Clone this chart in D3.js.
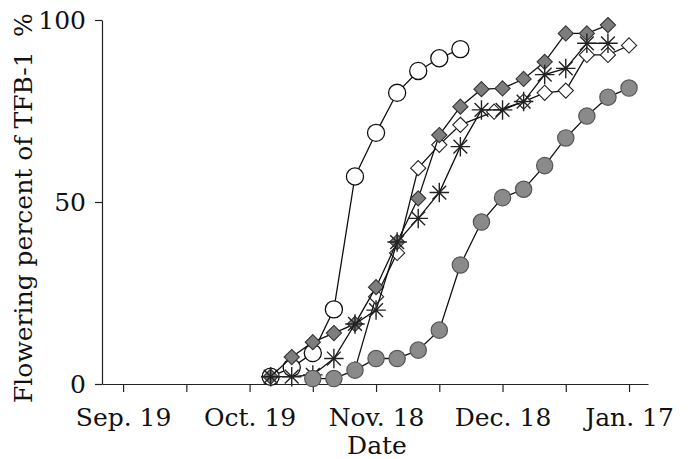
<!DOCTYPE html>
<html>
<head>
<meta charset="utf-8">
<script src="https://cdn.jsdelivr.net/npm/d3@7"></script>
<style>
  html, body { margin: 0; padding: 0; background: #fff; }
  svg { display: block; }
  text { font-family: "DejaVu Serif", serif; fill: #111; }
</style>
</head>
<body>
<svg id="chart" width="691" height="459"></svg>
<script>
// Days counted from Sep. 19
const tickDays = [0, 15, 30, 45, 60, 75, 90, 105, 120];
const tickLabels = ["Sep. 19", "", "Oct. 19", "", "Nov. 18", "", "Dec. 18", "", "Jan. 17"];
const yTicks = [0, 50, 100];

// Open circles
const openCircleDays   = [35, 40, 45, 50, 55, 60, 65, 70, 75, 80];
const openCircleValues = [2, 4.5, 8.5, 20.5, 57, 69, 80, 86, 89.5, 92];

// Open diamonds
const openDiamondDays   = [55, 60, 65, 70, 75, 80, 88, 95, 100, 105, 110, 115, 120];
const openDiamondValues = [4, 24, 36, 59.3, 65.7, 71.2, 74.8, 77.6, 80, 80.6, 90.4, 90.4, 93];

// Grey diamonds
const greyDiamondDays   = [35, 40, 45, 50, 55, 60, 65, 70, 75, 80, 85, 90, 95, 100, 105, 110, 115];
const greyDiamondValues = [2, 7.4, 11.5, 14, 16.5, 26.6, 39, 51, 68.4, 76.2, 81, 81.2, 83.8, 88.5, 96.3, 96.3, 98.6];

// Asterisks
const asteriskDays   = [35, 40, 45, 50, 55, 60, 65, 70, 75, 80, 85, 90, 95, 100, 105, 110, 115];
const asteriskValues = [2, 2, 2.5, 7, 16.5, 20.3, 39, 45.5, 52.6, 65.2, 75.3, 75.3, 77.6, 85, 86.7, 93.6, 93.6];

// Grey circles
const greyCircleDays   = [45, 50, 55, 60, 65, 70, 75, 80, 85, 90, 95, 100, 105, 110, 115, 120];
const greyCircleValues = [1.5, 1.5, 3.8, 7, 7, 9.3, 14.8, 32.7, 44.5, 51.2, 53.5, 60, 67.6, 73.6, 78.8, 81.3];

const FONT = 25;
const svg = d3.select("#chart");

const x = d3.scaleLinear().domain([-5, 124.5]).range([102, 648]);
const y = d3.scaleLinear().domain([0, 100]).range([384, 20]);

// Axes
const xAxis = d3.axisBottom(x)
  .tickValues(tickDays)
  .tickFormat((d, i) => tickLabels[i])
  .tickSizeInner(8).tickSizeOuter(0).tickPadding(16);
const gx = svg.append("g").attr("transform", `translate(0,${y(0)})`).call(xAxis);
gx.selectAll("text").attr("font-size", FONT).attr("font-family", "DejaVu Serif, serif");

const yAxis = d3.axisLeft(y)
  .tickValues(yTicks)
  .tickSizeInner(7).tickSizeOuter(0).tickPadding(9);
const gy = svg.append("g").attr("transform", `translate(${x.range()[0]},0)`).call(yAxis);
gy.selectAll("text").attr("font-size", FONT).attr("font-family", "DejaVu Serif, serif");

svg.selectAll(".domain, .tick line").attr("stroke", "#222").attr("stroke-width", 1.2);

// Axis titles
svg.append("text")
  .attr("x", 377).attr("y", 454)
  .attr("text-anchor", "middle")
  .attr("font-size", FONT)
  .text("Date");

svg.append("text")
  .attr("transform", "translate(32,403) rotate(-90)")
  .attr("text-anchor", "start")
  .attr("font-size", FONT)
  .text("Flowering percent of TFB-1");

svg.append("text")
  .attr("transform", "translate(32,25) rotate(-90)")
  .attr("text-anchor", "middle")
  .attr("font-size", FONT)
  .text("%");

// Eight-ray asterisk symbol
const asterisk8 = {
  draw(ctx, size) {
    const r = Math.sqrt(size) / 2;
    for (let k = 0; k < 4; k++) {
      const a = k * Math.PI / 4;
      const dx = Math.cos(a) * r, dy = Math.sin(a) * r;
      ctx.moveTo(-dx, -dy);
      ctx.lineTo(dx, dy);
    }
  }
};

// Square turned 45 degrees; size is the square's area
const rhomb = {
  draw(ctx, size) {
    const h = Math.sqrt(size / 2);
    ctx.moveTo(0, -h);
    ctx.lineTo(h, 0);
    ctx.lineTo(0, h);
    ctx.lineTo(-h, 0);
    ctx.closePath();
  }
};

const line = d3.line().x(d => x(d[0])).y(d => y(d[1]));
const zip = (a, b) => a.map((d, i) => [d, b[i]]);

const series = [
  { days: openCircleDays, values: openCircleValues, type: d3.symbolCircle, size: 230, fill: "#fff", stroke: "#111", sw: 1.3 },
  { days: openDiamondDays, values: openDiamondValues, type: rhomb, size: 115, fill: "#fff", stroke: "#222", sw: 1.1 },
  { days: greyDiamondDays, values: greyDiamondValues, type: rhomb, size: 115, fill: "#7d7d7d", stroke: "#333", sw: 1.1 },
  { days: asteriskDays, values: asteriskValues, type: asterisk8, size: 380, fill: "none", stroke: "#222", sw: 1.4 },
  { days: greyCircleDays, values: greyCircleValues, type: d3.symbolCircle, size: 210, fill: "#8a8a8a", stroke: "#555", sw: 1.2 }
];

series.forEach(s => {
  const pts = zip(s.days, s.values);
  const g = svg.append("g");
  g.append("path")
    .datum(pts)
    .attr("d", line)
    .attr("fill", "none")
    .attr("stroke", "#111")
    .attr("stroke-width", 1.3);
  g.selectAll("path.mark")
    .data(pts)
    .join("path")
    .attr("class", "mark")
    .attr("transform", d => `translate(${x(d[0])},${y(d[1])})`)
    .attr("d", d3.symbol().type(s.type).size(s.size))
    .attr("fill", s.fill)
    .attr("stroke", s.stroke)
    .attr("stroke-width", s.sw);
});
</script>
</body>
</html>
